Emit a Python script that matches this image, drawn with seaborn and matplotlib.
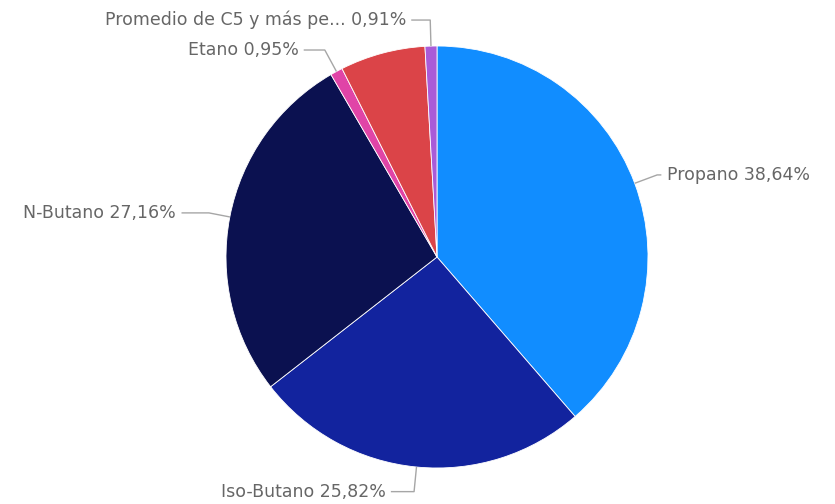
import numpy as np
import matplotlib
matplotlib.use("Agg")
import matplotlib.pyplot as plt
import seaborn as sns

# data (clockwise from 12 o'clock)
componentes = ['Propano', 'Iso-Butano', 'N-Butano', 'Etano', '', 'Promedio de C5 y más pe...']
porcentajes = [38.64, 25.82, 27.16, 0.95, 6.52, 0.91]
colores = ['#118DFF', '#12239E', '#0B1150', '#E044A7', '#DB4448', '#A95BD8']
etiquetas = ['Propano 38,64%', 'Iso-Butano 25,82%', 'N-Butano 27,16%', 'Etano 0,95%',
             None, 'Promedio de C5 y más pe... 0,91%']

# label layout: y of the text (data units, radius = 1) and length of the horizontal leader
label_y = [0.389, -1.112, 0.209, 0.981, None, 1.123]
leader_len = [0.02, 0.11, 0.13, 0.10, None, 0.09]

sns.set_theme(style="white")
plt.rcParams['font.family'] = ['DejaVu Sans']

fig = plt.figure(figsize=(8.35, 5.04), dpi=100)
ax = fig.add_axes([0, 0, 1, 1])

palette = sns.color_palette(colores)
wedges, _ = ax.pie(porcentajes, colors=palette, startangle=90, counterclock=False,
                   radius=1.0, center=(0, 0),
                   wedgeprops=dict(linewidth=0.6, edgecolor='white'))

line_col = '#A6A6A6'
text_col = '#666666'
for w, lab, ty, ll in zip(wedges, etiquetas, label_y, leader_len):
    if lab is None:
        continue
    mid = np.deg2rad((w.theta1 + w.theta2) / 2)
    dx, dy = np.cos(mid), np.sin(mid)
    # point on the edge, then radially out to the label height
    r_el = ty / dy if abs(dy) > 1e-6 else 1.1
    ex, ey = dx * r_el, ty
    side = 1 if dx > 0 else -1
    hx = ex + side * ll
    ax.plot([dx * 1.0, ex, hx], [dy * 1.0, ey, ey], color=line_col, lw=1.0,
            solid_capstyle='butt')
    ax.text(hx + side * 0.025, ey, lab, ha='left' if side > 0 else 'right',
            va='center', fontsize=12.5, color=text_col)

# centre at pixel (437, 257), radius 211 px
ax.set_xlim(-437 / 211, (835 - 437) / 211)
ax.set_ylim(-(504 - 257) / 211, 257 / 211)
ax.set_aspect('equal')
ax.axis('off')

fig.savefig('out.png', dpi=100, facecolor='white')
